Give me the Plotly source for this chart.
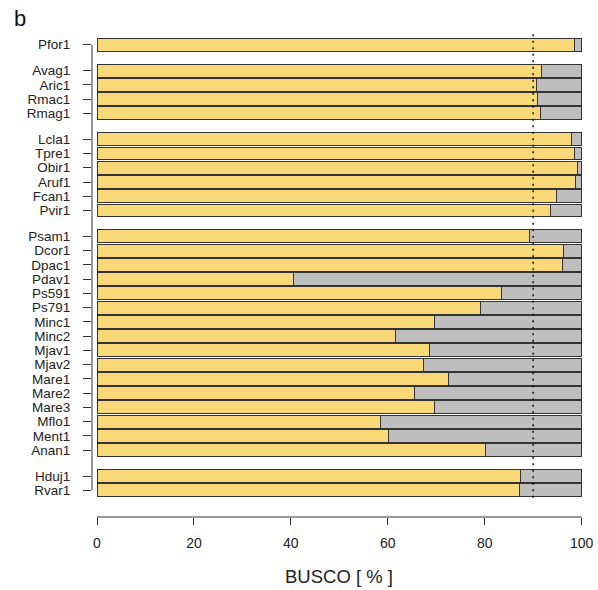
import plotly.graph_objects as go

# BUSCO completeness (%) per genome, listed in display groups (top to bottom)
group_pfor = ["Pfor1"]
group_avag = ["Avag1", "Aric1", "Rmac1", "Rmag1"]
group_lcla = ["Lcla1", "Tpre1", "Obir1", "Aruf1", "Fcan1", "Pvir1"]
group_psam = ["Psam1", "Dcor1", "Dpac1", "Pdav1", "Ps591", "Ps791", "Minc1", "Minc2",
              "Mjav1", "Mjav2", "Mare1", "Mare2", "Mare3", "Mflo1", "Ment1", "Anan1"]
group_hduj = ["Hduj1", "Rvar1"]

complete_pfor = [98.6]
complete_avag = [91.7, 90.7, 90.9, 91.5]
complete_lcla = [98.0, 98.6, 99.1, 98.8, 94.8, 93.5]
complete_psam = [89.3, 96.2, 96.0, 40.5, 83.4, 79.2, 69.6, 61.6,
                 68.7, 67.3, 72.6, 65.5, 69.7, 58.5, 60.1, 80.1]
complete_hduj = [87.4, 87.1]

threshold = 90
x_ticks = [0, 20, 40, 60, 80, 100]

groups = [group_pfor, group_avag, group_lcla, group_psam, group_hduj]
group_values = [complete_pfor, complete_avag, complete_lcla, complete_psam, complete_hduj]

# barplot-style layout: bar width 1, 0.1 space within a group, 1.0 between groups
BAR_W = 1.0
SPACE_IN = 0.1
SPACE_GROUP = 1.0

names, complete, ypos = [], [], []
pos = 0.0
for gi, (g, vals) in enumerate(zip(groups, group_values)):
    for j, (n, v) in enumerate(zip(g, vals)):
        if names:
            pos += BAR_W + (SPACE_GROUP if j == 0 else SPACE_IN)
        names.append(n)
        complete.append(v)
        ypos.append(pos)
missing = [100 - v for v in complete]

YELLOW = "#F9D977"
GREY = "#BEBEBE"
EDGE = "#333333"
AXIS = "#333333"
FONT = "Liberation Sans, Arial, sans-serif"

fig = go.Figure()
fig.add_trace(go.Bar(y=ypos, x=complete, orientation="h", width=BAR_W,
                     marker=dict(color=YELLOW, line=dict(color=EDGE, width=1)),
                     name="Complete", hovertext=names))
fig.add_trace(go.Bar(y=ypos, x=missing, orientation="h", width=BAR_W,
                     marker=dict(color=GREY, line=dict(color=EDGE, width=1)),
                     name="Missing", hovertext=names))

pad = 2.06
fig.update_layout(
    barmode="stack",
    width=598, height=590,
    margin=dict(l=92, r=12, t=18, b=73),
    plot_bgcolor="white", paper_bgcolor="white",
    showlegend=False,
    font=dict(family=FONT, color="#222222"),
    xaxis=dict(range=[-1.032, 100.9], tickvals=x_ticks, ticktext=[str(t) for t in x_ticks],
               ticks="outside", ticklen=7, tickcolor=AXIS, tickwidth=1,
               showgrid=False, zeroline=False, showline=False, automargin=False,
               tickfont=dict(size=14, color="#222222"), ticklabelstandoff=6),
    yaxis=dict(range=[ypos[-1] + pad, ypos[0] - pad], tickvals=ypos, ticktext=names,
               ticks="outside", ticklen=8, tickcolor=AXIS, tickwidth=1,
               showgrid=False, zeroline=False, showline=False, automargin=False,
               tickfont=dict(size=13.5, color="#222222"), ticklabelstandoff=10),
)

# axis lines spanning only the tick range
fig.add_shape(type="line", xref="paper", yref="y", x0=0, x1=0, y0=ypos[0], y1=ypos[-1],
              line=dict(color=AXIS, width=1))
fig.add_shape(type="line", xref="x", yref="paper", x0=x_ticks[0], x1=x_ticks[-1], y0=0, y1=0,
              line=dict(color=AXIS, width=1))

# completeness threshold
fig.add_shape(type="line", xref="x", yref="y", x0=threshold, x1=threshold,
              y0=ypos[0] - BAR_W / 2 - 0.3, y1=ypos[-1] + BAR_W / 2 + 0.2,
              line=dict(color="#111111", width=1.5, dash="2px,4.5px"), layer="above")

fig.add_annotation(text="BUSCO [ % ]", xref="x", yref="paper", x=50, y=-0.12,
                   showarrow=False, yanchor="middle", font=dict(size=18.5, color="#222222"))
fig.add_annotation(text="b", xref="paper", yref="paper", x=-0.145, y=1.0,
                   xanchor="center", yanchor="middle", showarrow=False,
                   font=dict(size=22, color="#111111"))

fig.write_html("out.html")
